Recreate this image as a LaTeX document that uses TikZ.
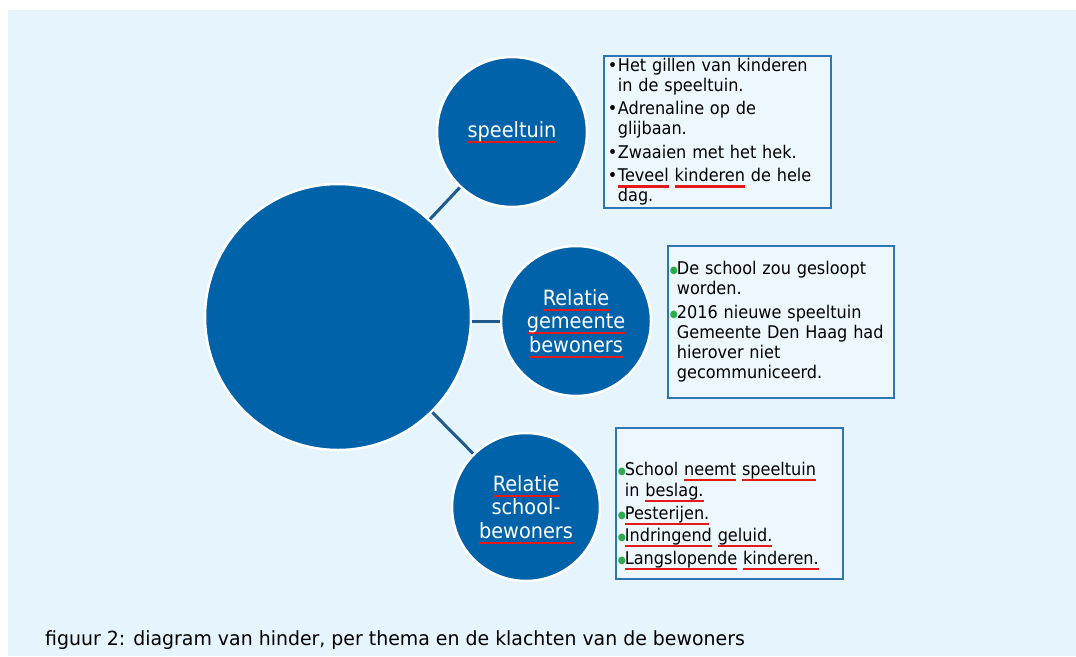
\documentclass[tikz,border=0pt]{standalone}
\usepackage{fontspec}
\setmainfont{DejaVu Sans}[FakeStretch=0.92]
\newfontfamily\capfont{DejaVu Sans}[FakeStretch=0.97]
\usepackage{xcolor}
\definecolor{bgblue}{HTML}{E6F4FE}
\definecolor{discblue}{HTML}{0063AA}
\definecolor{linkblue}{HTML}{1F5A8A}
\definecolor{frameblue}{HTML}{2E75B6}
\definecolor{dotgreen}{HTML}{2DAA4A}
\newlength\sqw
\makeatletter
\newcommand\sq[1]{\settowidth\sqw{#1}\sqw=0.99626\sqw\edef\sqwbp{\strip@pt\sqw}%
  \special{pdf:content 0.9 0.1 0.1 rg 0 -5.6 \sqwbp\space 2.1 re f}#1}
\makeatother
\newcommand\blk[1]{{\hangindent=10pt\hangafter=1\noindent\makebox[10pt][l]{\textbullet}#1\par}}
\newcommand\grn[1]{{\hangindent=7pt\hangafter=1\noindent\makebox[7pt][l]{\raisebox{1pt}{\textcolor{dotgreen}{\fontsize{10}{10}\selectfont ●}}}#1\par}}

\begin{document}
\begin{tikzpicture}[x=1pt, y=-1pt,
  disc/.style={circle, fill=discblue, draw=white, line width=2.5pt, inner sep=0pt,
    text=white, align=center, font=\fontsize{21}{23.5}\selectfont},
  link/.style={draw=linkblue, line width=3pt},
  notebox/.style={draw=frameblue, line width=1.8pt, fill=white!25!bgblue, anchor=north west,
    inner ysep=2pt, font=\fontsize{17.5}{20}\selectfont,
    execute at begin node={\setlength{\parskip}{3.5pt}\raggedright}}]
\useasboundingbox (0,0) rectangle (1076,656);
\fill[bgblue] (8,10) rectangle (1076,656);

% the circles
\node[disc, minimum size=266pt] (core) at (338,317) {};
\node[disc, minimum size=150pt] (play) at (512,132) {\sq{speeltuin}};
\node[disc, minimum size=150pt] (city) at (576,321) {\sq{Relatie}\\\sq{gemeente}\\\sq{bewoners}};
\node[disc, minimum size=148pt] (school) at (526,507) {\sq{Relatie}\\school-\\\sq{bewoners}};

\draw[link] (core) -- (play);
\draw[link] (city.west) -- (city.west -| core.east);
\draw[link] (core) -- (school);

% the complaints
\node[notebox, inner xsep=4pt, text width=219pt, minimum height=152pt] (playnotes) at (603,55) {%
\blk{Het gillen van kinderen\newline in de speeltuin.}
\blk{Adrenaline op de\newline glijbaan.}
\blk{Zwaaien met het hek.}
\blk{\sq{Teveel} \sq{kinderen} de hele\newline dag.}};
\node[notebox, inner xsep=2pt, text width=222pt, minimum height=152pt] (citynotes) at (667,245) {%
\grn{De school zou gesloopt\newline worden.}
\grn{2016 nieuwe speeltuin\newline Gemeente Den Haag had\newline hierover niet\newline gecommuniceerd.}};
\node[notebox, inner xsep=2pt, text width=223pt, minimum height=151pt,
  font=\fontsize{17.5}{21}\selectfont] (schoolnotes) at (615,427) {%
\setlength{\parskip}{1.5pt}%
\grn{\rule{0pt}{37pt}School \sq{neemt} \sq{speeltuin}\newline in \sq{beslag.}}
\grn{\sq{Pesterijen.}}
\grn{\sq{Indringend} \sq{geluid.}}
\grn{\sq{Langslopende} \sq{kinderen.}}};

\node[anchor=base west, font=\capfont\fontsize{19.5}{22}\selectfont, inner sep=0pt] (caption) at (45,645)
  {figuur 2: diagram van hinder, per thema en de klachten van de bewoners};
\end{tikzpicture}
\end{document}
